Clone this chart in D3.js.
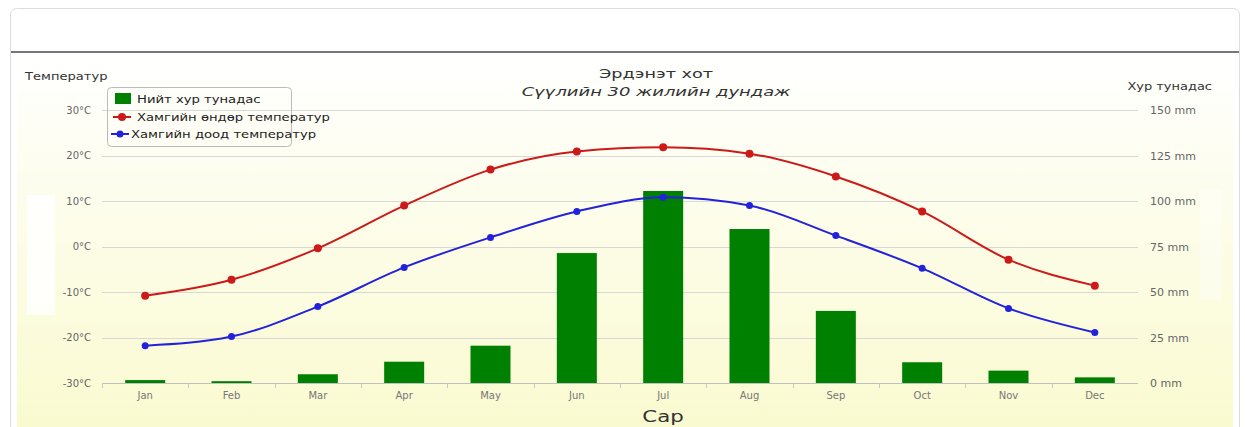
<!DOCTYPE html>
<html>
<head>
<meta charset="utf-8">
<script src="https://cdn.jsdelivr.net/npm/d3@7"></script>
<style>
  body { margin: 0; background: #fff; font-family: "DejaVu Sans", sans-serif; }
</style>
</head>
<body>
<svg id="chart" width="1245" height="427"></svg>
<script>
// data
var months = ["Jan","Feb","Mar","Apr","May","Jun","Jul","Aug","Sep","Oct","Nov","Dec"];
var precip = [1.6, 1.0, 4.8, 11.7, 20.5, 71.4, 105.5, 84.6, 39.6, 11.4, 6.8, 3.1];
var tMax = [-10.8, -7.3, -0.4, 9.0, 16.9, 20.9, 21.8, 20.4, 15.4, 7.7, -2.9, -8.6];
var tMin = [-21.8, -19.8, -13.2, -4.6, 2.0, 7.7, 10.8, 9.0, 2.4, -4.8, -13.6, -18.9];
var tempTicks = [-30, -20, -10, 0, 10, 20, 30];
var precipTicks = [0, 25, 50, 75, 100, 125, 150];
var legendNames = ["Нийт хур тунадас", "Хамгийн өндөр температур", "Хамгийн доод температур"];

var svg = d3.select("#chart");
var m = {left: 102, right: 1138, top: 110, bottom: 383};

// the screenshot is a bit stretched sideways, so text gets a horizontal scale
function label(x0, y0, txt, size, sx, anchor, italic) {
    return svg.append("text")
        .attr("transform", "translate(" + x0 + "," + y0 + ") scale(" + sx + ",1)")
        .attr("text-anchor", anchor || "start")
        .style("font-size", size + "px")
        .style("font-style", italic ? "italic" : "normal")
        .attr("fill", "#333")
        .text(txt);
}

// background gradient
var defs = svg.append("defs");
var grad = defs.append("linearGradient").attr("id", "bg").attr("x1", 0).attr("y1", 0).attr("x2", 0).attr("y2", 1);
grad.append("stop").attr("offset", "0%").attr("stop-color", "#ffffff");
grad.append("stop").attr("offset", "100%").attr("stop-color", "#fafad0");

// card
svg.append("rect")
    .attr("x", 10.5).attr("y", 8.5).attr("width", 1229).attr("height", 440)
    .attr("rx", 6).attr("fill", "#fff").attr("stroke", "#dcdcdc");
svg.append("rect")
    .attr("x", 17).attr("y", 53).attr("width", 1216).attr("height", 374)
    .attr("fill", "url(#bg)");
svg.append("line")
    .attr("x1", 11).attr("x2", 1239).attr("y1", 52).attr("y2", 52)
    .attr("stroke", "#777").attr("stroke-width", 2);
// pale patches seen in the screenshot
svg.append("rect").attr("x", 27).attr("y", 195).attr("width", 28).attr("height", 120)
    .attr("fill", "#fff").attr("opacity", 0.85);
svg.append("rect").attr("x", 1200).attr("y", 190).attr("width", 22).attr("height", 110)
    .attr("fill", "#fff").attr("opacity", 0.35);

var x = d3.scaleBand().domain(months).range([m.left, m.right]).paddingInner(0).paddingOuter(0);
var yT = d3.scaleLinear().domain([-30, 30]).range([m.bottom, m.top]);
var yP = d3.scaleLinear().domain([0, 150]).range([m.bottom, m.top]);

// grid
svg.append("g")
    .selectAll("line")
    .data(tempTicks.slice(1))
    .join("line")
    .attr("x1", m.left).attr("x2", m.right)
    .attr("y1", function(d){return Math.round(yT(d)) + 0.5;})
    .attr("y2", function(d){return Math.round(yT(d)) + 0.5;})
    .attr("stroke", "#d8d8d8");

// left axis
var leftAxis = svg.append("g")
    .attr("transform", "translate(" + (m.left - 8) + ",0)")
    .call(d3.axisLeft(yT).tickValues(tempTicks).tickSize(0).tickFormat(function(d){return d + "°C";}));
leftAxis.select(".domain").remove();
leftAxis.selectAll("text").attr("fill", "#666").style("font-size", "10px").style("font-family", "DejaVu Sans");

// right axis
var rightAxis = svg.append("g")
    .attr("transform", "translate(" + (m.right + 9) + ",0)")
    .call(d3.axisRight(yP).tickValues(precipTicks).tickSize(0).tickFormat(function(d){return d + " mm";}));
rightAxis.select(".domain").remove();
rightAxis.selectAll("text").attr("fill", "#666").style("font-size", "11px").style("font-family", "DejaVu Sans");

// bottom axis
var bottomAxis = svg.append("g")
    .attr("transform", "translate(0," + (m.bottom + 0.5) + ")")
    .call(d3.axisBottom(x).tickSize(0).tickPadding(8));
bottomAxis.select(".domain").attr("stroke", "#c0c0c0").attr("d", "M" + m.left + ",0H" + m.right);
bottomAxis.selectAll("text").attr("fill", "#777").style("font-size", "10px").style("font-family", "DejaVu Sans");
svg.append("g")
    .selectAll("line")
    .data(months)
    .join("line")
    .attr("x1", function(d){return Math.round(x(d)) + 0.5;})
    .attr("x2", function(d){return Math.round(x(d)) + 0.5;})
    .attr("y1", m.bottom).attr("y2", m.bottom + 5)
    .attr("stroke", "#c8c8c8");

// bars
var bw = 40;
svg.append("g")
    .selectAll("rect")
    .data(precip)
    .join("rect")
    .attr("x", function(d, i){return x(months[i]) + x.bandwidth()/2 - bw/2;})
    .attr("y", function(d){return yP(d);})
    .attr("width", bw)
    .attr("height", function(d){return m.bottom - yP(d);})
    .attr("fill", "#008000");

// lines
var line = d3.line()
    .x(function(d, i){return x(months[i]) + x.bandwidth()/2;})
    .y(function(d){return yT(d);})
    .curve(d3.curveMonotoneX);

function series(data, color, r) {
    svg.append("path").datum(data).attr("d", line)
        .attr("fill", "none").attr("stroke", color).attr("stroke-width", 2);
    svg.append("g").selectAll("circle").data(data).join("circle")
        .attr("cx", function(d, i){return x(months[i]) + x.bandwidth()/2;})
        .attr("cy", function(d){return yT(d);})
        .attr("r", r).attr("fill", color);
}
series(tMax, "#cc1a1a", 4);
series(tMin, "#2222dd", 3.5);

// titles
label(656, 78, "Эрдэнэт хот", 13, 1.36, "middle");
label(656, 96, "Сүүлийн 30 жилийн дундаж", 13, 1.38, "middle", true);
label(25, 80, "Температур", 11, 1.19);
label(1212, 90, "Хур тунадас", 11, 1.18, "end");
label(663, 422, "Сар", 15, 1.42, "middle");

// legend
var lg = svg.append("g").attr("transform", "translate(107,87)");
lg.append("rect").attr("x", 0.5).attr("y", 0.5).attr("width", 184).attr("height", 59)
    .attr("rx", 4).attr("fill", "none").attr("stroke", "#bbb");
lg.append("rect").attr("x", 8).attr("y", 6).attr("width", 16).attr("height", 11).attr("fill", "#008000");
lg.append("line").attr("x1", 6).attr("x2", 24).attr("y1", 30).attr("y2", 30).attr("stroke", "#cc1a1a").attr("stroke-width", 2);
lg.append("circle").attr("cx", 15).attr("cy", 30).attr("r", 4).attr("fill", "#cc1a1a");
lg.append("line").attr("x1", 4).attr("x2", 22).attr("y1", 47).attr("y2", 47).attr("stroke", "#2222dd").attr("stroke-width", 2);
lg.append("circle").attr("cx", 13).attr("cy", 47).attr("r", 3.5).attr("fill", "#2222dd");
lg.selectAll("text.item").data(legendNames).join("text")
    .attr("class", "item")
    .attr("transform", function(d, i){
        return "translate(" + (i === 2 ? 24 : 30) + "," + [16, 34, 51][i] + ") scale(1.2,1)";
    })
    .style("font-size", "11px").attr("fill", "#222")
    .text(function(d){return d;});
</script>
</body>
</html>
